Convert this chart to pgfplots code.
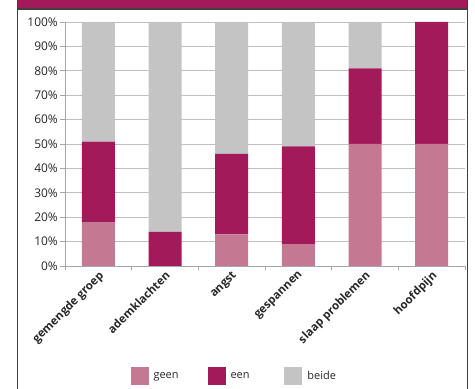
\documentclass[border=0pt]{standalone}
\usepackage{pgfplots}
\pgfplotsset{compat=1.18}
\usepackage{fontspec}
\setmainfont{Open Sans}
\definecolor{geen}{HTML}{C47892}
\definecolor{een}{HTML}{A31A5B}
\definecolor{beide}{HTML}{C4C4C4}
\definecolor{framec}{HTML}{404040}
\definecolor{gridc}{HTML}{BEBEBE}
\definecolor{axisc}{HTML}{A6A6A6}
\definecolor{txt}{HTML}{262626}
\begin{document}
\begin{tikzpicture}
\path[use as bounding box] (0bp,0bp) rectangle (475bp,389bp);
\fill[een] (17bp,389bp) rectangle (467.5bp,380bp);
\draw[framec, line width=1.2bp] (17bp,380bp) -- (467.5bp,380bp);
\draw[framec, line width=1.2bp] (17.6bp,0bp) -- (17.6bp,389bp);
\draw[framec, line width=1.2bp] (467.4bp,0bp) -- (467.4bp,389bp);
\begin{axis}[
  at={(65bp,123bp)}, anchor=south west,
  scale only axis, width=400bp, height=244bp,
  ybar stacked, bar width=33bp,
  xmin=-0.5, xmax=5.5, ymin=0, ymax=100,
  axis x line*=bottom, axis y line*=left,
  axis line style={color=axisc, line width=0.9bp},
  /pgf/number format/assume math mode=true,
  ytick={0,10,...,100},
  yticklabel={\pgfmathprintnumber{\tick}\%},
  ymajorgrids, grid style={color=gridc, line width=0.9bp},
  tick align=outside,
  major tick length=5bp,
  minor tick length=4bp,
  major y tick style={color=axisc, line width=0.9bp},
  major x tick style={draw=none},
  minor x tick style={color=axisc, line width=0.9bp},
  xtick={0,...,5},
  minor xtick={-0.5,0.5,...,5.5},
  xticklabels={gemengde groep, ademklachten, angst, gespannen, slaap problemen, hoofdpijn},
  yticklabel style={font=\fontsize{12}{14}\selectfont, text=txt, inner sep=2bp},
  xticklabel style={rotate=45, anchor=north east, font=\bfseries\fontsize{11.5}{13}\selectfont, text=txt, inner sep=1bp, xshift=1.5bp, yshift=2bp},
  legend style={at={(0.425,-0.451)}, anchor=center, draw=none, fill=none,
    legend columns=3, font=\fontsize{11}{13}\selectfont, text=txt,
    /tikz/every odd column/.append style={column sep=3bp}},
  legend image code/.code={\fill[#1] (0bp,-9bp) rectangle (18bp,9bp);},
]
\addplot[fill=geen, draw=none] coordinates {(0,18) (1,0) (2,13) (3,9) (4,50) (5,50)};
\addplot[fill=een, draw=none] coordinates {(0,33) (1,14) (2,33) (3,40) (4,31) (5,50)};
\addplot[fill=beide, draw=none] coordinates {(0,49) (1,86) (2,54) (3,51) (4,19) (5,0)};
\legend{\makebox[52bp][l]{geen}, \makebox[52bp][l]{een}, \makebox[30bp][l]{beide}}
\end{axis}
\end{tikzpicture}
\end{document}
